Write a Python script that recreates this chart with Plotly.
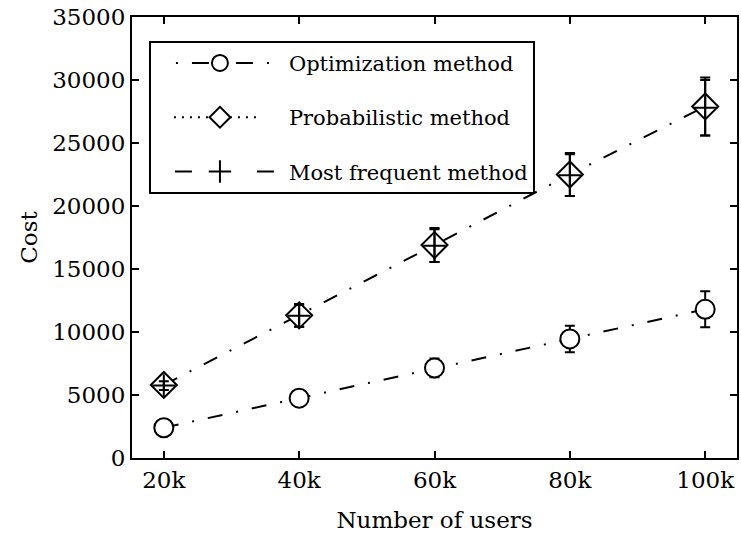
import plotly.graph_objects as go

# Number of users (thousands) and their tick labels
users = [20, 40, 60, 80, 100]
user_labels = ["20k", "40k", "60k", "80k", "100k"]

# Mean cost and error (half-width) per method
opt_cost = [2400, 4750, 7150, 9450, 11800]
opt_err = [200, 250, 750, 1050, 1430]
prob_cost = [5800, 11320, 16900, 22500, 27900]
prob_err = [400, 910, 1350, 1700, 2300]
freq_cost = [5750, 11280, 16850, 22450, 27800]
freq_err = [350, 870, 1300, 1650, 2200]

cost_ticks = [0, 5000, 10000, 15000, 20000, 25000, 30000, 35000]

FONT = "DejaVu Serif"
FS = 23
LEG_FS = 21
DASHDOT = "15px,14px,2px,14px"

# Legend line samples: leading gap, then the pattern, then a long gap
LEG_OPT = "0px,20px,2px,14px,17px,27px,17px,14px,2px,300px"
LEG_PROB = "0px,18px," + ",".join(["2px,6px"] * 11) + ",0px,300px"
LEG_FREQ = "0px,19px,17px,65px,17px,300px"

fig = go.Figure()

err_style = dict(type="data", visible=True, color="black", thickness=2, width=5)

# Optimization method: dash-dot line, open circles
fig.add_trace(go.Scatter(
    x=users, y=opt_cost, mode="lines+markers", showlegend=False,
    line=dict(color="black", width=2, dash=DASHDOT),
    marker=dict(symbol="circle", size=19, color="white",
                line=dict(color="black", width=2)),
    error_y=dict(array=opt_err, **err_style),
))

# Probabilistic method: diamonds, joined by a dash-dot line
fig.add_trace(go.Scatter(
    x=users, y=prob_cost, mode="lines+markers", showlegend=False,
    line=dict(color="black", width=2, dash=DASHDOT),
    marker=dict(symbol="diamond", size=20, color="white",
                line=dict(color="black", width=2)),
    error_y=dict(array=prob_err, **err_style),
))

# Most frequent method: plus markers
fig.add_trace(go.Scatter(
    x=users, y=freq_cost, mode="markers", showlegend=False,
    marker=dict(symbol="cross-thin", size=16, color="black",
                line=dict(color="black", width=2)),
    error_y=dict(array=freq_err, **err_style),
))

# Legend entries
legend_items = [
    ("Optimization method", LEG_OPT, dict(symbol="circle", size=16, color="white")),
    ("Probabilistic method", LEG_PROB, dict(symbol="diamond", size=16, color="white")),
    ("Most frequent method", LEG_FREQ, dict(symbol="cross-thin", size=16, color="black")),
]
for i, (name, dash, mk) in enumerate(legend_items):
    fig.add_trace(go.Scatter(
        x=[None], y=[None], mode="lines+markers", name=name,
        legendgroup=f"g{i}",
        line=dict(color="black", width=2, dash=dash),
        marker=dict(line=dict(color="black", width=2), **mk),
    ))

axis_common = dict(
    showline=True, linecolor="black", linewidth=2, mirror="ticks",
    ticks="inside", ticklen=7, tickwidth=1.5, tickcolor="black",
    showgrid=False, zeroline=False,
    tickfont=dict(family=FONT, size=FS, color="black"),
)

fig.update_xaxes(
    range=[15.3, 104.7], tickvals=users, ticktext=user_labels,
    title=dict(text="Number of users", font=dict(family=FONT, size=FS, color="black"), standoff=20),
    **axis_common,
)
fig.update_yaxes(
    range=[0, 35000], tickvals=cost_ticks, ticktext=[str(v) for v in cost_ticks],
    title=dict(text="Cost", font=dict(family=FONT, size=FS, color="black"), standoff=8),
    **axis_common,
)

fig.update_layout(
    width=741, height=541,
    margin=dict(l=132, r=2, t=17, b=83),
    plot_bgcolor="white", paper_bgcolor="white",
    font=dict(family=FONT, size=FS, color="black"),
    legend=dict(
        x=0.028, y=0.946, xanchor="left", yanchor="top",
        bgcolor="white", bordercolor="black", borderwidth=2,
        font=dict(family=FONT, size=LEG_FS, color="black"),
        itemwidth=128, tracegroupgap=24,
    ),
)

fig.write_html("out.html")
